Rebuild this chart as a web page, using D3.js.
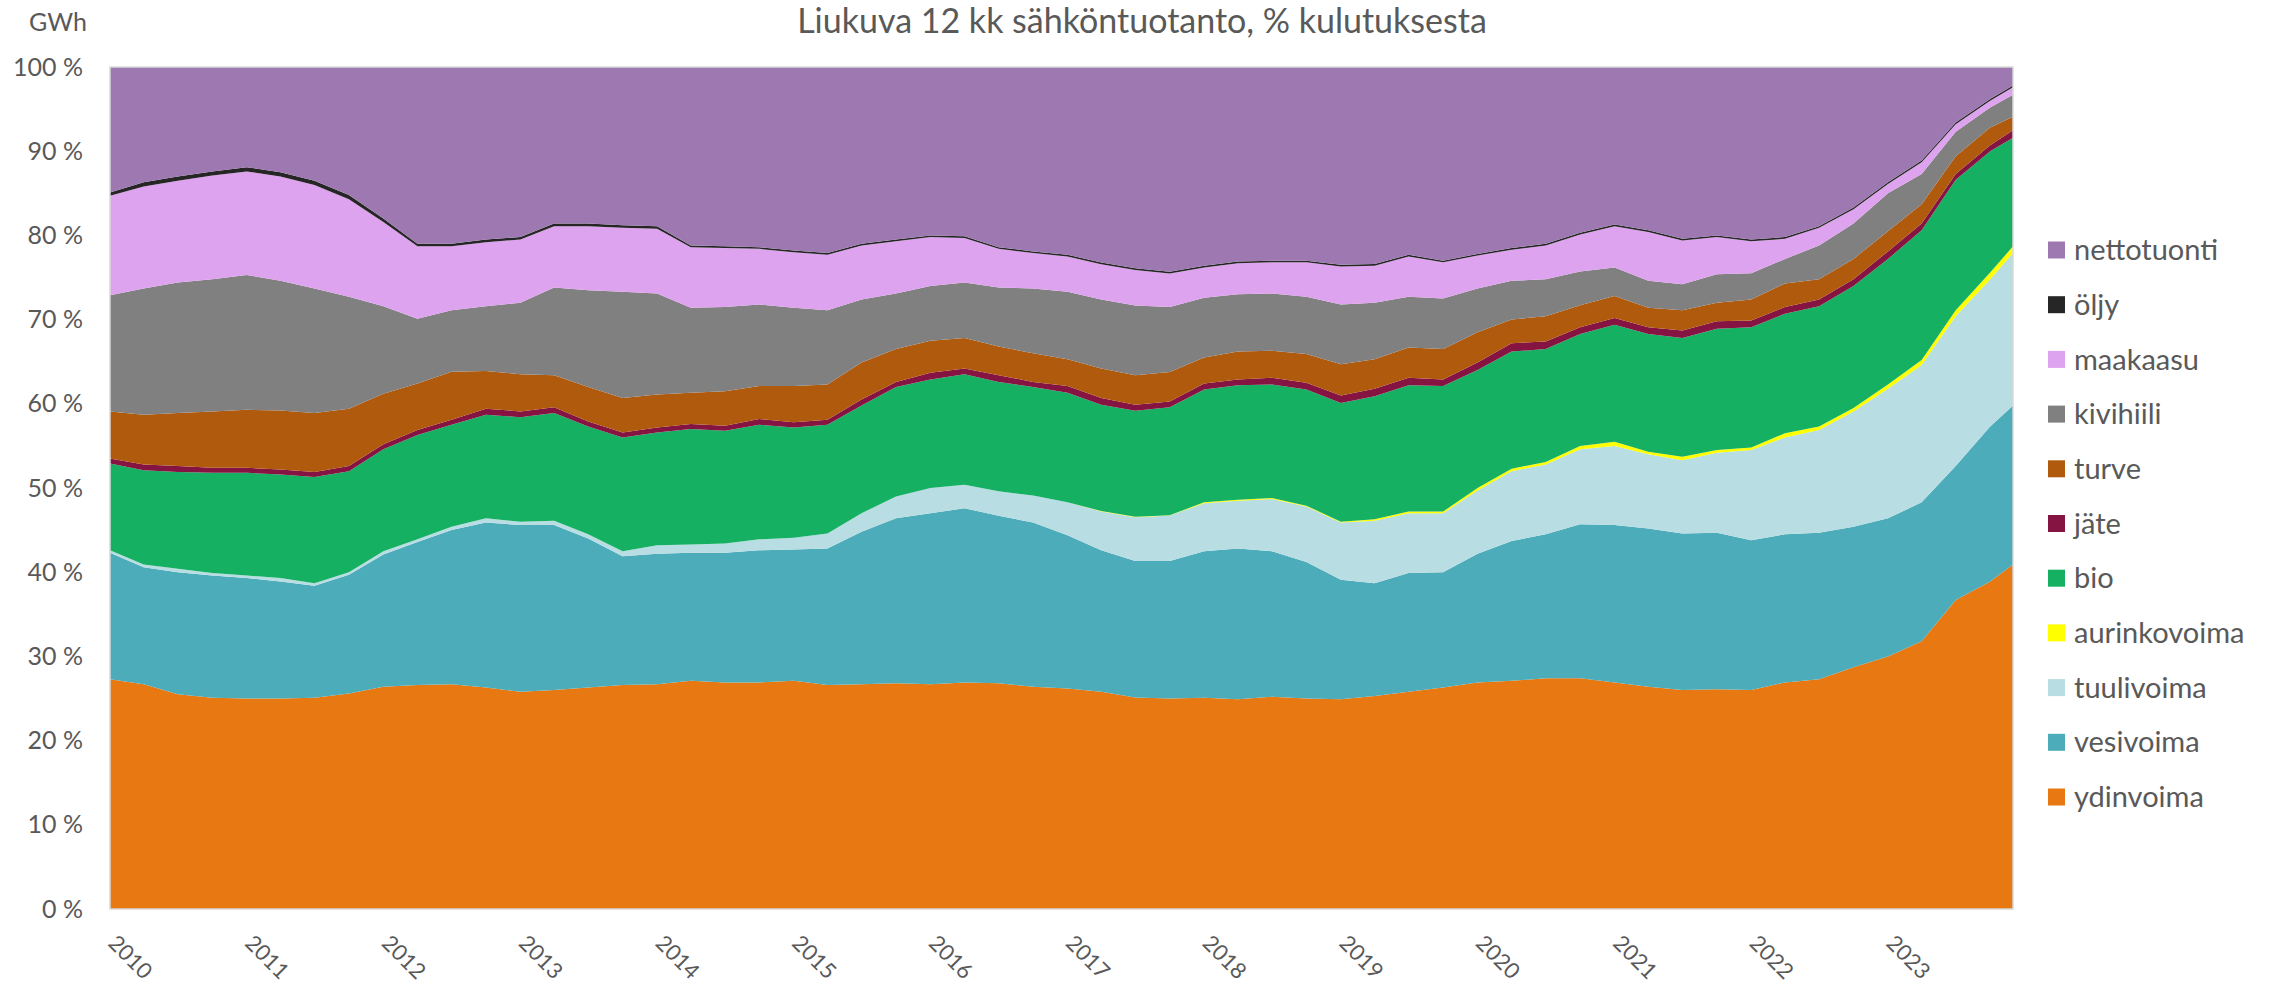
<!DOCTYPE html>
<html>
<head>
<meta charset="utf-8">
<script src="https://cdn.jsdelivr.net/npm/d3@7"></script>
<style>
  body { margin: 0; background: #fff; }
  text { font-family: Lato, "Liberation Sans", sans-serif; fill: #595959; }
</style>
</head>
<body>
<div id="svgdiv"></div>
<script>
// quarterly points (share of consumption, %)
const months = [
  "2010-01","2010-04","2010-07","2010-10","2011-01","2011-04","2011-07","2011-10",
  "2012-01","2012-04","2012-07","2012-10","2013-01","2013-04","2013-07","2013-10",
  "2014-01","2014-04","2014-07","2014-10","2015-01","2015-04","2015-07","2015-10",
  "2016-01","2016-04","2016-07","2016-10","2017-01","2017-04","2017-07","2017-10",
  "2018-01","2018-04","2018-07","2018-10","2019-01","2019-04","2019-07","2019-10",
  "2020-01","2020-04","2020-07","2020-10","2021-01","2021-04","2021-07","2021-10",
  "2022-01","2022-04","2022-07","2022-10","2023-01","2023-04","2023-07","2023-10","2023-12"
];

const ydinvoima = [27.3,26.7,25.5,25.1,25.0,25.0,25.1,25.6,26.4,26.6,26.7,26.3,25.8,26.0,26.3,26.6,
  26.7,27.1,26.9,26.9,27.1,26.6,26.7,26.8,26.7,26.9,26.8,26.4,26.2,25.8,25.1,25.0,
  25.1,24.9,25.2,25.0,24.9,25.3,25.8,26.3,26.9,27.1,27.4,27.4,26.9,26.4,26.0,26.1,
  26.0,26.9,27.3,28.7,30.0,31.8,36.7,38.9,40.9];
const vesivoima = [15.0,13.9,14.5,14.5,14.3,13.9,13.3,14.1,15.7,17.0,18.3,19.6,19.8,19.6,17.7,15.3,
  15.5,15.2,15.4,15.7,15.6,16.2,18.1,19.6,20.3,20.7,19.9,19.5,18.2,16.8,16.2,16.3,
  17.4,17.9,17.3,16.2,14.2,13.4,14.1,13.7,15.3,16.6,17.1,18.3,18.7,18.8,18.6,18.6,
  17.8,17.6,17.4,16.7,16.4,16.5,15.9,18.4,18.9];
const tuulivoima = [0.3,0.3,0.4,0.3,0.3,0.4,0.3,0.3,0.4,0.3,0.4,0.5,0.4,0.5,0.5,0.6,
  1.0,1.0,1.1,1.3,1.4,1.8,2.2,2.6,3.0,2.8,2.9,3.2,3.9,4.6,5.2,5.4,
  5.7,5.7,6.2,6.6,6.8,7.4,7.1,7.0,7.5,8.3,8.3,8.9,9.4,8.8,8.7,9.5,
  10.7,11.5,12.2,13.7,15.4,16.3,17.8,17.5,18.1];
const aurinkovoima = [0,0,0,0,0,0,0,0,0,0,0,0,0,0,0,0,
  0,0,0,0,0,0,0,0,0,0,0,0,0,0.05,0.05,0.05,
  0.1,0.1,0.1,0.1,0.1,0.2,0.2,0.2,0.3,0.3,0.3,0.4,0.5,0.3,0.4,0.3,
  0.3,0.5,0.4,0.4,0.5,0.6,0.7,0.8,0.8];
const bio = [10.3,11.2,11.5,11.9,12.2,12.3,12.6,12.0,12.1,12.4,12.1,12.3,12.4,12.8,12.8,13.5,
  13.4,13.7,13.4,13.6,13.1,12.9,12.8,13.0,12.9,13.1,13.0,12.9,13.0,12.6,12.6,12.8,
  13.4,13.6,13.5,13.8,14.1,14.6,15.0,14.9,14.0,13.9,13.4,13.3,13.9,14.0,14.1,14.4,
  14.3,14.2,14.3,14.5,14.9,15.4,15.5,14.4,12.9];
const jate = [0.6,0.7,0.7,0.6,0.6,0.6,0.6,0.6,0.6,0.6,0.6,0.7,0.7,0.7,0.6,0.6,
  0.6,0.6,0.6,0.7,0.6,0.6,0.7,0.6,0.8,0.7,0.8,0.6,0.8,0.8,0.7,0.7,
  0.7,0.7,0.8,0.8,0.9,0.9,0.9,0.8,0.9,1.0,0.9,0.8,0.8,0.8,0.9,0.9,
  0.8,0.8,0.8,0.8,0.9,0.8,0.7,0.7,0.9];
const turve = [5.6,5.9,6.3,6.7,6.9,7.0,7.0,6.8,6.0,5.5,5.7,4.5,4.4,3.8,4.1,4.1,
  3.9,3.7,4.1,3.9,4.3,4.2,4.4,3.9,3.8,3.6,3.4,3.4,3.2,3.5,3.5,3.5,
  3.1,3.3,3.2,3.4,3.7,3.5,3.6,3.6,3.6,2.8,3.0,2.6,2.6,2.3,2.4,2.2,
  2.5,2.8,2.4,2.4,2.4,2.3,2.1,2.1,1.6];
const kivihiili = [13.8,15.0,15.5,15.7,16.0,15.4,14.8,13.3,10.4,7.7,7.3,7.7,8.5,10.4,11.5,12.6,
  12.0,10.1,10.0,9.7,9.3,8.8,7.5,6.6,6.5,6.6,7.0,7.7,8.0,8.2,8.3,7.7,
  7.1,6.8,6.8,6.8,7.1,6.7,6.0,6.0,5.2,4.6,4.4,4.0,3.4,3.2,3.1,3.4,
  3.1,2.9,4.0,4.2,4.5,3.6,2.9,2.4,2.6];
const maakaasu = [11.8,12.1,12.1,12.3,12.3,12.4,12.3,11.6,10.0,8.6,7.6,7.6,7.5,7.3,7.6,7.6,
  7.7,7.2,7.0,6.6,6.6,6.6,6.4,6.2,5.8,5.3,4.6,4.2,4.2,4.2,4.2,4.0,
  3.6,3.7,3.7,4.1,4.5,4.4,4.8,4.3,3.9,3.7,4.0,4.4,4.9,5.8,5.2,4.4,
  3.8,2.4,2.1,1.7,1.1,1.4,0.9,0.8,0.9];
const oljy = [0.4,0.5,0.5,0.5,0.5,0.5,0.5,0.5,0.4,0.3,0.3,0.3,0.3,0.3,0.3,0.3,
  0.3,0.2,0.2,0.2,0.2,0.2,0.2,0.2,0.2,0.2,0.2,0.2,0.2,0.2,0.2,0.2,
  0.2,0.2,0.2,0.2,0.2,0.2,0.2,0.2,0.2,0.2,0.2,0.2,0.2,0.2,0.2,0.2,
  0.2,0.2,0.2,0.2,0.2,0.2,0.2,0.2,0.2];
const nettotuonti = [14.9,13.7,13.0,12.4,11.9,12.5,13.5,15.2,18.0,21.0,21.0,20.5,20.2,18.6,18.6,18.8,
  18.9,21.2,21.3,21.4,21.8,22.1,21.0,20.5,20.0,20.1,21.4,21.9,22.3,23.2,23.9,24.3,
  23.6,23.1,23.0,23.0,23.5,23.4,22.3,23.0,22.2,21.5,21.0,19.7,18.7,19.4,20.4,20.0,
  20.5,20.2,18.9,16.7,13.7,11.1,6.6,3.8,2.2];

// series from bottom to top
const seriesNames = ["ydinvoima","vesivoima","tuulivoima","aurinkovoima","bio","jäte",
                     "turve","kivihiili","maakaasu","öljy","nettotuonti"];
const seriesValues = [ydinvoima, vesivoima, tuulivoima, aurinkovoima, bio, jate,
                      turve, kivihiili, maakaasu, oljy, nettotuonti];
const seriesColors = ["#E87812","#4DACBA","#B8DDE2","#FFFF00","#16B063","#861442",
                      "#B05A0E","#808080","#DEA3EE","#262626","#9D78B1"];

const yTicks = [0,0.1,0.2,0.3,0.4,0.5,0.6,0.7,0.8,0.9,1];

const width = 2277, height = 992;
const margin = {left: 110, right: 264, top: 67, bottom: 83};

let svg = d3.select("#svgdiv").append("svg")
    .attr("width", width)
    .attr("height", height);

// build rows for the stack
const parseMonth = d3.timeParse("%Y-%m");
const rows = months.map(function(m, i) {
    let row = {date: parseMonth(m)};
    seriesNames.forEach(function(name, k) { row[name] = seriesValues[k][i]; });
    return row;
});

const stacked = d3.stack()
    .keys(seriesNames)
    .offset(d3.stackOffsetExpand)(rows);

const x = d3.scaleTime()
    .domain(d3.extent(rows, d => d.date))
    .range([margin.left, width - margin.right]);

const y = d3.scaleLinear()
    .domain([0, 1])
    .range([height - margin.bottom, margin.top]);

const area = d3.area()
    .x(d => x(d.data.date))
    .y0(d => y(d[0]))
    .y1(d => y(d[1]));

svg.append("g")
  .selectAll("path")
  .data(stacked)
  .join("path")
    .attr("d", area)
    .attr("fill", (d, i) => seriesColors[i]);

// plot border
svg.append("rect")
    .attr("x", margin.left)
    .attr("y", margin.top)
    .attr("width", width - margin.right - margin.left)
    .attr("height", height - margin.bottom - margin.top)
    .attr("fill", "none")
    .attr("stroke", "#d9d9d9")
    .attr("stroke-width", 1.5);

// y axis labels
let yAxis = svg.append("g")
    .attr("transform", "translate(" + margin.left + ",0)")
    .call(d3.axisLeft(y).tickValues(yTicks).tickSize(0).tickPadding(27)
          .tickFormat(d => Math.round(d * 100) + " %"));
yAxis.select(".domain").remove();
yAxis.selectAll("text")
    .style("font-size", "25px")
    .attr("font-family", null);

// x axis labels, rotated
let xAxis = svg.append("g")
    .attr("transform", "translate(0," + (height - margin.bottom) + ")")
    .call(d3.axisBottom(x).ticks(d3.timeYear.every(1)).tickSize(0)
          .tickFormat(d3.timeFormat("%Y")));
xAxis.select(".domain").remove();
xAxis.selectAll("text")
    .attr("font-family", null)
    .style("font-size", "22px")
    .attr("text-anchor", "start")
    .attr("dy", "0.35em")
    .attr("y", 0)
    .attr("transform", "translate(2,30) rotate(45)");

// title and unit
svg.append("text")
    .text("Liukuva 12 kk sähköntuotanto, % kulutuksesta")
    .attr("x", 1142)
    .attr("y", 33)
    .attr("text-anchor", "middle")
    .style("font-size", "34px");

svg.append("text")
    .text("GWh")
    .attr("x", 29)
    .attr("y", 31)
    .style("font-size", "25px");

// legend, top entry is the top series
const legendItems = seriesNames.map((n, i) => ({name: n, color: seriesColors[i]})).reverse();
let legend = svg.append("g")
  .selectAll("g")
  .data(legendItems)
  .join("g")
    .attr("transform", (d, i) => "translate(2048," + (250 + i * 54.7) + ")");

legend.append("rect")
    .attr("x", 0)
    .attr("y", -8.5)
    .attr("width", 17)
    .attr("height", 17)
    .attr("fill", d => d.color);

legend.append("text")
    .text(d => d.name)
    .attr("x", 26)
    .attr("dy", "0.35em")
    .style("font-size", "29px");
</script>
</body>
</html>
